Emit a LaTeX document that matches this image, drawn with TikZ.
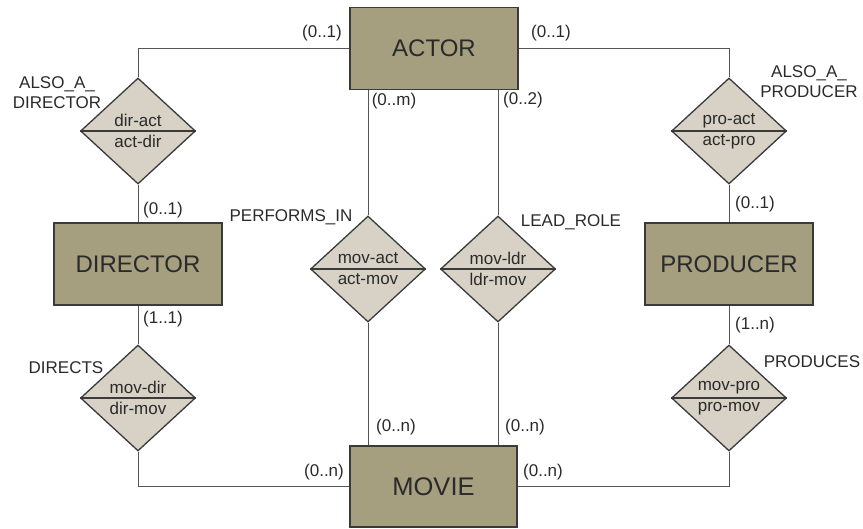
\documentclass[tikz,border=0pt]{standalone}
\usepackage{fontspec}
\setmainfont{Liberation Sans}
\usetikzlibrary{shapes.geometric}
\definecolor{entfill}{HTML}{A59F80}
\definecolor{relfill}{HTML}{D8D2C6}
\definecolor{edgecol}{HTML}{3A3A3A}
\definecolor{linecol}{HTML}{555555}
\definecolor{txt}{HTML}{2A2A2A}
\tikzset{
  entity/.style={draw=edgecol, line width=1.6pt, fill=entfill, minimum width=168pt, minimum height=82pt, inner sep=0pt, text=txt, font=\fontsize{24}{28}\selectfont},
  relship/.style={draw=edgecol, line width=1.3pt, fill=relfill, shape=diamond, minimum width=115pt, minimum height=106pt, inner sep=0pt},
  reltxt/.style={text=txt, font=\fontsize{17}{20}\selectfont, inner sep=0pt},
  lbl/.style={text=txt, font=\fontsize{17}{20}\selectfont, inner sep=0pt, align=center},
  conn/.style={draw=linecol, line width=0.9pt},
  midline/.style={draw=edgecol, line width=1.3pt}
}
\begin{document}
\begin{tikzpicture}[x=1pt, y=-1pt]
\useasboundingbox (0,0) rectangle (863,529);
% entities
\node[entity] (actor) at (434,48.5) {ACTOR};
\node[entity] (director) at (138,264) {DIRECTOR};
\node[entity] (producer) at (729,264) {PRODUCER};
\node[entity, minimum width=167pt, minimum height=81pt, font=\fontsize{25.5}{30}\selectfont] (movie) at (433.5,486.5) {MOVIE};
% relationships
\node[relship] (dA) at (138,131) {};
\node[relship] (pA) at (729,131) {};
\node[relship] (dD) at (138,398) {};
\node[relship] (pP) at (729,398) {};
\node[relship] (mA) at (368,269) {};
\node[relship] (mL) at (498,269) {};
% middle lines
\foreach \r in {dA,pA,dD,pP,mA,mL} { \draw[midline] (\r.west) -- (\r.east); }
% relationship texts
\node[reltxt] (dAt) at ([yshift=10.5pt]dA.center) {dir-act};
\node[reltxt] (dAb) at ([yshift=-10.5pt]dA.center) {act-dir};
\node[reltxt] (pAt) at ([yshift=10.5pt]pA.center) {pro-act};
\node[reltxt] (pAb) at ([yshift=-10.5pt]pA.center) {act-pro};
\node[reltxt] (dDt) at ([yshift=10.5pt]dD.center) {mov-dir};
\node[reltxt] (dDb) at ([yshift=-10.5pt]dD.center) {dir-mov};
\node[reltxt] (pPt) at ([yshift=10.5pt]pP.center) {mov-pro};
\node[reltxt] (pPb) at ([yshift=-10.5pt]pP.center) {pro-mov};
\node[reltxt] (mAt) at ([yshift=10.5pt]mA.center) {mov-act};
\node[reltxt] (mAb) at ([yshift=-10.5pt]mA.center) {act-mov};
\node[reltxt] (mLt) at ([yshift=10.5pt]mL.center) {mov-ldr};
\node[reltxt] (mLb) at ([yshift=-10.5pt]mL.center) {ldr-mov};
% connectors
\draw[conn] (actor.west) -| (dA.north);
\draw[conn] (dA.south) -- (director.north);
\draw[conn] (director.south) -- (dD.north);
\draw[conn] (dD.south) |- (movie.west);
\draw[conn] (actor.east) -| (pA.north);
\draw[conn] (pA.south) -- (producer.north);
\draw[conn] (producer.south) -- (pP.north);
\draw[conn] (pP.south) |- (movie.east);
\draw[conn] (mA.north) -- (mA.north |- actor.south);
\draw[conn] (mA.south) -- (mA.south |- movie.north);
\draw[conn] (mL.north) -- (mL.north |- actor.south);
\draw[conn] (mL.south) -- (mL.south |- movie.north);
% labels
\node[lbl] (c1) at (322,33) {(0..1)};
\node[lbl] (c2) at (551,33) {(0..1)};
\node[lbl] (c3) at (394,101) {(0..m)};
\node[lbl] (c4) at (523,100) {(0..2)};
\node[lbl] (c5) at (163,210) {(0..1)};
\node[lbl] (c6) at (163,319) {(1..1)};
\node[lbl] (c7) at (755,204) {(0..1)};
\node[lbl] (c8) at (755,325) {(1..n)};
\node[lbl] (c9) at (396,427) {(0..n)};
\node[lbl] (c10) at (525,427) {(0..n)};
\node[lbl] (c11) at (324,472) {(0..n)};
\node[lbl] (c12) at (543,472) {(0..n)};
\node[lbl] (n1) at (57,93) {ALSO\_A\_\\DIRECTOR};
\node[lbl] (n2) at (809,82) {ALSO\_A\_\\PRODUCER};
\node[lbl] (n3) at (291,217) {PERFORMS\_IN};
\node[lbl] (n4) at (571,222) {LEAD\_ROLE};
\node[lbl] (n5) at (66,368) {DIRECTS};
\node[lbl] (n6) at (812,362) {PRODUCES};
\end{tikzpicture}
\end{document}
